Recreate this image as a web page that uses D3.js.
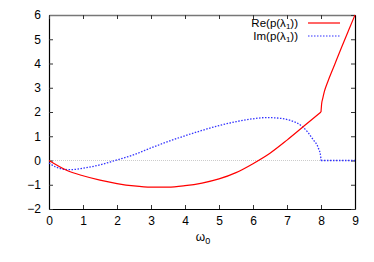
<!DOCTYPE html>
<html lang="en">
  <head>
    <meta charset="UTF-8" />
    <title>Re/Im p(lambda1)</title>
    <style>
      body { margin: 0; background: #fff; }
      text { font-family: "Liberation Sans", Arial, sans-serif; font-size: 12px; fill: #000; }
    </style>
  </head>
  <body>
    <div id="viz"></div>
    <script src="https://cdnjs.cloudflare.com/ajax/libs/d3/7.8.5/d3.min.js"></script>
    <script>
      // values
      let omegaRe = [0, 0.5, 1, 1.5, 2, 2.5, 3, 3.5, 4, 4.5, 5, 5.5, 6, 6.5, 7, 7.5, 8, 8.02, 8.05, 8.1, 8.2, 8.4, 8.6, 8.8, 9];
      let reVals  = [0, -0.39, -0.63, -0.81, -0.95, -1.05, -1.1, -1.1, -1.04, -0.93, -0.76, -0.5, -0.13, 0.3, 0.84, 1.42, 2.0, 2.35, 2.55, 2.85, 3.25, 3.95, 4.65, 5.33, 6.0];
      let omegaIm = [0, 0.2, 0.4, 0.62, 1, 1.5, 1.94, 2.5, 3, 3.5, 4, 4.5, 5, 5.5, 6, 6.4, 6.8, 7.1, 7.46, 7.77, 7.92, 7.99, 8, 9];
      let imVals  = [-0.1, -0.27, -0.35, -0.38, -0.32, -0.18, 0, 0.24, 0.52, 0.78, 1.02, 1.24, 1.44, 1.6, 1.72, 1.77, 1.74, 1.65, 1.39, 0.86, 0.52, 0.18, 0, 0];
      let xTicks = [0, 1, 2, 3, 4, 5, 6, 7, 8, 9];
      let yTicks = [-2, -1, 0, 1, 2, 3, 4, 5, 6];
      let kink = 8;

      let width = 374, height = 262,
          margin = { top: 15, right: 19, bottom: 53, left: 49 },
          widthr = width - margin.left - margin.right,
          heightr = height - margin.top - margin.bottom;

      let svg = d3.select("#viz").append("svg")
        .attr("width", width)
        .attr("height", height);

      let g = svg.append("g")
        .attr("transform", `translate(${margin.left}, ${margin.top})`);

      let x = d3.scaleLinear().domain([0, 9]).range([0, widthr]);
      let y = d3.scaleLinear().domain([-2, 6]).range([heightr, 0]);

      // zero line
      g.append("line")
        .attr("x1", 0).attr("x2", widthr)
        .attr("y1", y(0)).attr("y2", y(0))
        .style("stroke", "#ccc")
        .style("stroke-width", 1)
        .style("stroke-dasharray", "1,1");

      // axes with inward ticks on all four sides
      let axBottom = g.append("g")
        .attr("transform", `translate(0, ${heightr})`)
        .call(d3.axisBottom(x).tickValues(xTicks).tickSizeInner(-4).tickSizeOuter(0).tickPadding(7));
      let axLeft = g.append("g")
        .call(d3.axisLeft(y).tickValues(yTicks).tickSizeInner(-4).tickSizeOuter(0).tickPadding(8));
      let axTop = g.append("g")
        .call(d3.axisTop(x).tickValues(xTicks).tickSizeInner(-4).tickSizeOuter(0).tickFormat(""));
      let axRight = g.append("g")
        .attr("transform", `translate(${widthr}, 0)`)
        .call(d3.axisRight(y).tickValues(yTicks).tickSizeInner(-4).tickSizeOuter(0).tickFormat(""));

      [axBottom, axLeft, axTop, axRight].forEach(a => {
        a.selectAll("text").style("font-size", "12px").attr("font-family", null);
        a.selectAll(".tick line").style("stroke", "#333");
        a.select(".domain").style("stroke", "#000").style("stroke-width", 1.2);
      });
      axTop.select(".domain").style("stroke", "#777").style("stroke-width", 1.5);

      let reData = omegaRe.map((w, i) => [w, reVals[i]]);
      let imData = omegaIm.map((w, i) => [w, imVals[i]]);

      let line = d3.line()
        .x(d => x(d[0]))
        .y(d => y(d[1]))
        .curve(d3.curveMonotoneX);

      // both curves have a corner at omega = 8, so draw each side separately
      let split = data => [data.filter(d => d[0] <= kink), data.filter(d => d[0] >= kink)];

      split(imData).forEach(part => {
        g.append("path")
          .datum(part)
          .attr("d", line)
          .style("fill", "none")
          .style("stroke", "#3333ff")
          .style("stroke-width", 1.3)
          .style("stroke-dasharray", "1.5,1.5");
      });

      split(reData).forEach(part => {
        g.append("path")
          .datum(part)
          .attr("d", line)
          .style("fill", "none")
          .style("stroke", "#ff0000")
          .style("stroke-width", 1.2);
      });

      // legend
      let legend = [
        { label: "Re(p(λ", color: "#ff0000", dash: null },
        { label: "Im(p(λ", color: "#3333ff", dash: "1.5,1.5" }
      ];
      legend.forEach((l, i) => {
        let ly = 23 + i * 13;
        let t = svg.append("text")
          .attr("x", 298)
          .attr("y", ly + 4)
          .attr("text-anchor", "end")
          .style("font-size", "11.5px");
        t.append("tspan").text(l.label);
        t.append("tspan").text("1").attr("dy", 2).style("font-size", "8px");
        t.append("tspan").text("))").attr("dy", -2);
        svg.append("line")
          .attr("x1", 308).attr("x2", 340)
          .attr("y1", ly).attr("y2", ly)
          .style("stroke", l.color)
          .style("stroke-width", 1.2)
          .style("stroke-dasharray", l.dash);
      });

      // x label
      let xl = svg.append("text")
        .attr("x", margin.left + x(4.5) + 1)
        .attr("y", 241)
        .attr("text-anchor", "middle");
      xl.append("tspan").text("ω");
      xl.append("tspan").text("0").attr("dy", 3).style("font-size", "9px");
    </script>
  </body>
</html>
